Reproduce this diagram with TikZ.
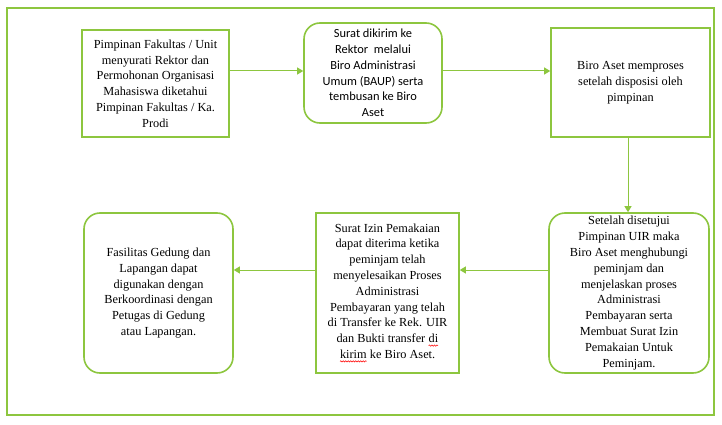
\documentclass[tikz,border=0pt]{standalone}
\usepackage{fontspec}
\setmainfont{Liberation Serif}
\newfontfamily\calib{Carlito}
\usetikzlibrary{arrows.meta,decorations.pathmorphing}
\definecolor{grn}{RGB}{141,198,63}
\newcommand\redsquig[1]{\tikz[x=1cm,y=1cm,baseline=(w.base)]{\node[inner sep=0pt, outer sep=0pt, draw=none, minimum width=0pt, minimum height=0pt] (w) {#1};
  \draw[red, line width=0.5pt, decorate, decoration={snake, amplitude=0.7pt, segment length=2.5pt}] ([yshift=-2.8pt]w.base west) -- ([yshift=-2.8pt]w.base east);}}
\tikzset{
  boxbase/.style={draw=grn, line width=1.6pt, fill=white, align=center, inner sep=2pt,
    font=\fontsize{12.3}{15.8}\selectfont},
  sqbox/.style={boxbase},
  rdbox/.style={boxbase, rounded corners=16pt},
  flow/.style={draw=grn, line width=1pt, -{Triangle[length=6pt,width=7pt]}}
}
\begin{document}
\begin{tikzpicture}[x=1pt,y=-1pt]
\useasboundingbox (0,0) rectangle (722,425);
\draw[grn, line width=1.6pt] (7,8) rectangle (714,415);

\node[sqbox, minimum width=147pt, minimum height=107pt] (b1) at (155.5,83.5)
  {Pimpinan Fakultas / Unit\\menyurati Rektor dan\\Permohonan Organisasi\\Mahasiswa diketahui\\Pimpinan Fakultas / Ka.\\Prodi};
\node[rdbox, minimum width=138pt, minimum height=100pt, font=\calib\fontsize{12.4}{15.8}\selectfont] (b2) at (373,73)
  {Surat dikirim ke\\Rektor\ \ melalui\\Biro Administrasi\\Umum (BAUP) serta\\tembusan ke Biro\\Aset};
\node[sqbox, minimum width=159pt, minimum height=109pt] (b3) at (630.5,82.5)
  {Biro Aset memproses\\setelah disposisi oleh\\pimpinan};
\node[rdbox, minimum width=160pt, minimum height=160pt] (b4) at (629,293)
  {Setelah disetujui\\Pimpinan UIR maka\\Biro Aset menghubungi\\peminjam dan\\menjelaskan proses\\Administrasi\\Pembayaran serta\\Membuat Surat Izin\\Pemakaian Untuk\\Peminjam.};
\node[sqbox, minimum width=143pt, minimum height=160pt] (b5) at (387.5,293)
  {Surat Izin Pemakaian\\dapat diterima ketika\\peminjam telah\\menyelesaikan Proses\\Administrasi\\Pembayaran yang telah\\di Transfer ke Rek. UIR\\dan Bukti transfer \redsquig{di}\\\redsquig{kirim} ke Biro Aset.};
\node[rdbox, minimum width=149pt, minimum height=160pt] (b6) at (158.5,293)
  {Fasilitas Gedung dan\\Lapangan dapat\\digunakan dengan\\Berkoordinasi dengan\\Petugas di Gedung\\atau Lapangan.};

\draw[flow] (b1.east |- 0,71) -- (b2.west |- 0,71);
\draw[flow] (b2.east |- 0,71) -- (b3.west |- 0,71);
\draw[flow] (b3.south -| 628,0) -- (b4.north -| 628,0);
\draw[flow] (b4.west |- 0,270) -- (b5.east |- 0,270);
\draw[flow] (b5.west |- 0,270) -- (b6.east |- 0,270);
\end{tikzpicture}
\end{document}
